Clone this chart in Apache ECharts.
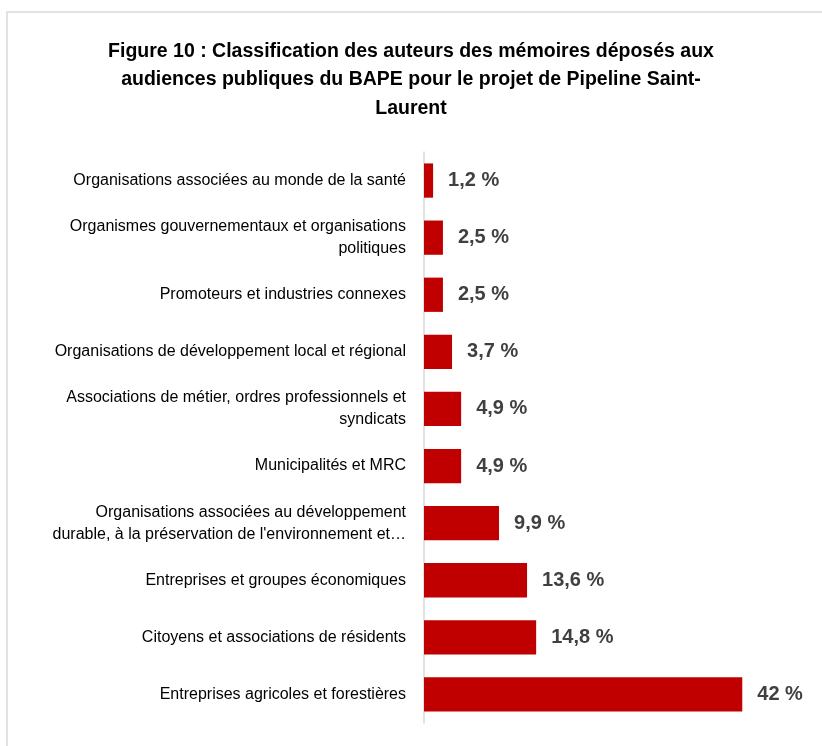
<!DOCTYPE html>
<html>
<head>
<meta charset="utf-8">
<script src="https://cdn.jsdelivr.net/npm/echarts@6/dist/echarts.min.js"></script>
<style>
  html, body { margin: 0; padding: 0; background: #fff; }
</style>
</head>
<body>
<div id="myCharts" style="width:822px;height:746px"></div>
<script>
// categories, top to bottom as shown
var categories = [
  'Organisations associées au monde de la santé',
  'Organismes gouvernementaux et organisations\npolitiques',
  'Promoteurs et industries connexes',
  'Organisations de développement local et régional',
  'Associations de métier, ordres professionnels et\nsyndicats',
  'Municipalités et MRC',
  'Organisations associées au développement\ndurable, à la préservation de l\'environnement et…',
  'Entreprises et groupes économiques',
  'Citoyens et associations de résidents',
  'Entreprises agricoles et forestières'
]
var values = [1.2, 2.5, 2.5, 3.7, 4.9, 4.9, 9.9, 13.6, 14.8, 42]
var valueLabels = ['1,2 %', '2,5 %', '2,5 %', '3,7 %', '4,9 %', '4,9 %', '9,9 %', '13,6 %', '14,8 %', '42 %']

var titleText = 'Figure 10 : Classification des auteurs des mémoires déposés aux\naudiences publiques du BAPE pour le projet de Pipeline Saint-\nLaurent'

var myCharts = echarts.init(document.getElementById('myCharts'))

var option = {
  animation: false,
  textStyle: { fontFamily: 'Liberation Sans' },
  title: {
    text: titleText,
    left: 'center',
    top: 32,
    textStyle: {
      fontSize: 19.5,
      fontWeight: 'bold',
      color: '#000',
      lineHeight: 28.5,
      fontFamily: 'Liberation Sans'
    }
  },
  graphic: [
    {
      type: 'polyline',
      shape: { points: [[7, 760], [7, 12], [830, 12]] },
      style: { stroke: '#d9d9d9', fill: null, lineWidth: 1.5 }
    }
  ],
  grid: {
    left: 424,
    right: 57,
    top: 152,
    bottom: 23
  },
  xAxis: {
    type: 'value',
    min: 0,
    max: 45,
    show: false
  },
  yAxis: {
    type: 'category',
    inverse: true,
    data: categories,
    axisLine: { show: true, lineStyle: { color: '#d9d9d9', width: 1.5 } },
    axisTick: { show: false },
    axisLabel: {
      margin: 18,
      fontSize: 16,
      color: '#000',
      lineHeight: 22,
      align: 'right'
    }
  },
  series: [
    {
      type: 'bar',
      data: values,
      barCategoryGap: '40%',
      itemStyle: { color: '#c00000' },
      label: {
        show: true,
        position: 'right',
        distance: 15,
        fontSize: 20,
        fontWeight: 'bold',
        color: '#404040',
        formatter: function (p) { return valueLabels[p.dataIndex] }
      }
    }
  ]
}

myCharts.setOption(option)
</script>
</body>
</html>
